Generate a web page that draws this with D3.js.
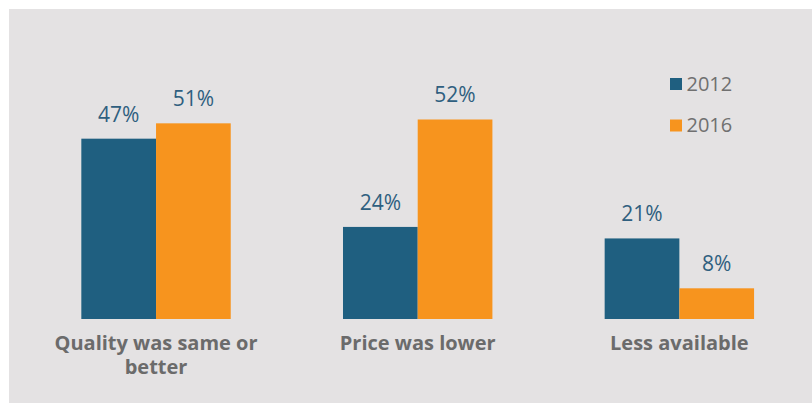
<!DOCTYPE html>
<html>
<head>
<meta charset="utf-8">
<script src="https://cdn.jsdelivr.net/npm/d3@7/dist/d3.min.js"></script>
<style>
  body { margin: 0; background: #fff; }
  text { font-family: "Open Sans", sans-serif; }
</style>
</head>
<body>
<script>
const width = 812, height = 404;

const categories = [['Quality was same or', 'better'], ['Price was lower'], ['Less available']];
const years = ['2012', '2016'];
const values2012 = [47, 24, 21];
const values2016 = [51, 52, 8];

const colors = {'2012': '#1f5f80', '2016': '#f7941e'};

const svg = d3.select('body').append('svg').attr('width', width).attr('height', height);

svg.append('rect')
    .attr('x', 9).attr('y', 9)
    .attr('width', width - 9).attr('height', height - 10)
    .attr('fill', '#e4e2e3');

const x0 = d3.scaleBand()
    .domain(d3.range(categories.length))
    .range([25.2, 810.2])
    .paddingInner(0.429)
    .paddingOuter(0.2145);

const x1 = d3.scaleBand().domain(years).range([0, x0.bandwidth()]);

const y = d3.scaleLinear().domain([0, 60]).range([319, 319 - 230.2]);

const data = categories.map((c, i) => ({
    idx: i,
    vals: [{year: '2012', v: values2012[i]}, {year: '2016', v: values2016[i]}]
}));

const groups = svg.selectAll('g.group')
    .data(data)
    .enter().append('g')
    .attr('class', 'group')
    .attr('transform', d => `translate(${x0(d.idx)},0)`);

groups.selectAll('rect')
    .data(d => d.vals)
    .enter().append('rect')
    .attr('x', d => x1(d.year))
    .attr('y', d => y(d.v))
    .attr('width', x1.bandwidth())
    .attr('height', d => y(0) - y(d.v))
    .attr('fill', d => colors[d.year]);

groups.selectAll('text.val')
    .data(d => d.vals)
    .enter().append('text')
    .attr('class', 'val')
    .attr('x', d => x1(d.year) + x1.bandwidth() / 2)
    .attr('y', d => y(d.v) - 17)
    .attr('text-anchor', 'middle')
    .attr('font-size', 21)
    .attr('fill', '#2f5f7f')
    .text(d => d.v + '%');

// category labels, one text per line
categories.forEach((lines, i) => {
    svg.selectAll(null)
        .data(lines)
        .enter().append('text')
        .attr('class', 'cat')
        .attr('x', x0(i) + x0.bandwidth() / 2)
        .attr('y', (d, j) => 350 + j * 24)
        .attr('text-anchor', 'middle')
        .attr('font-size', 20)
        .attr('font-weight', 700)
        .attr('fill', '#6b6b6b')
        .text(d => d);
});

// legend
const legend = svg.append('g').attr('transform', 'translate(670,78)');
const li = legend.selectAll('g')
    .data(years)
    .enter().append('g')
    .attr('transform', (d, i) => `translate(0,${i * 41.5})`);
li.append('rect')
    .attr('width', 12).attr('height', 12)
    .attr('fill', d => colors[d]);
li.append('text')
    .attr('x', 16.5).attr('y', 12.5)
    .attr('font-size', 20)
    .attr('fill', '#707070')
    .text(d => d);
</script>
</body>
</html>
